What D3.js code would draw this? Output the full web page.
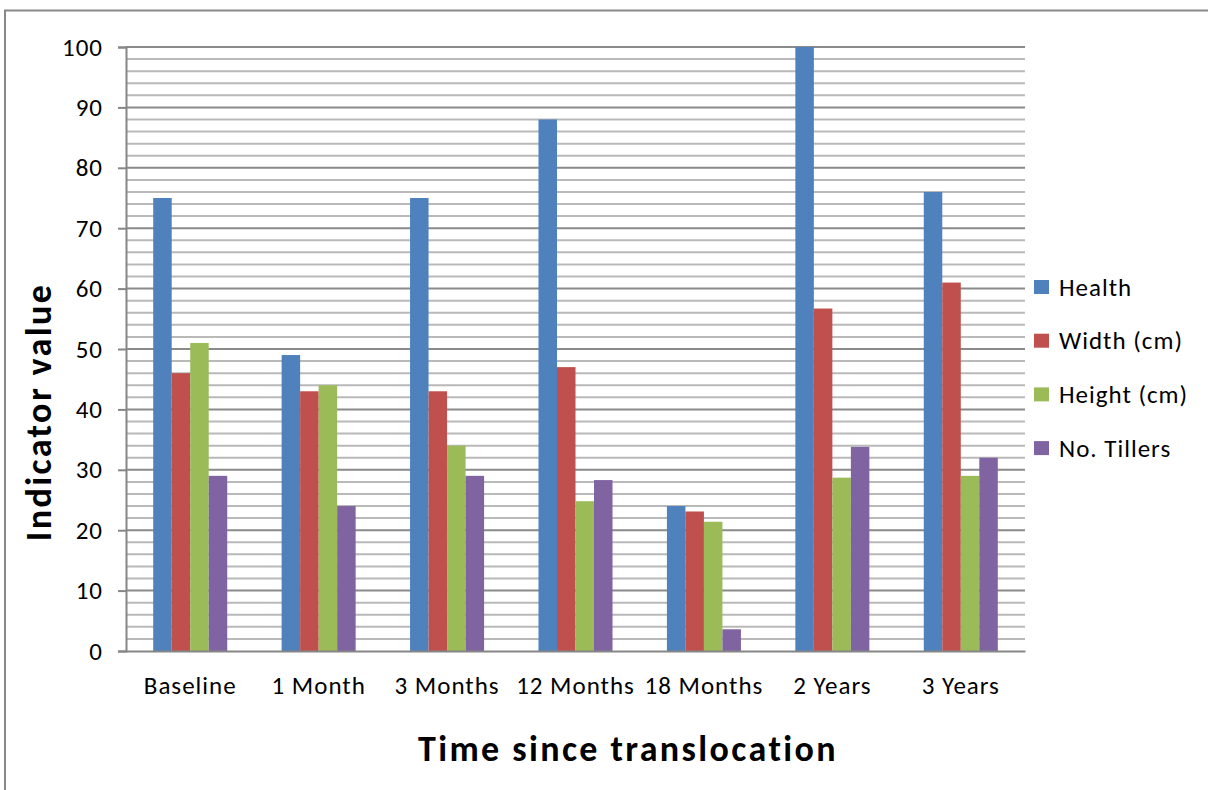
<!DOCTYPE html>
<html>
<head>
<meta charset="utf-8">
<script src="https://cdn.jsdelivr.net/npm/d3@7"></script>
<style>
  html, body { margin: 0; padding: 0; background: #fff; }
  svg { display: block; font-family: Carlito, Lato, "Liberation Sans", sans-serif; }
</style>
</head>
<body>
<svg id="chart" width="1208" height="790"></svg>
<script>
// Categories and series for the indicator chart
const categories = ["Baseline", "1 Month", "3 Months", "12 Months", "18 Months", "2 Years", "3 Years"];
const seriesNames = ["Health", "Width (cm)", "Height (cm)", "No. Tillers"];
const health  = [75, 49, 75, 88, 24, 100, 76];
const widthCm = [46, 43, 43, 47, 23.1, 56.7, 61];
const heightCm = [51, 44, 34, 24.8, 21.4, 28.7, 29];
const tillers = [29, 24, 29, 28.3, 3.6, 33.8, 32];
const yTicks = [0, 10, 20, 30, 40, 50, 60, 70, 80, 90, 100];
const yMinor = d3.range(0, 101, 2);

const seriesValues = [health, widthCm, heightCm, tillers];
const colors = ["#4F81BD", "#C0504D", "#9BBB59", "#8064A2"];
const labelFont = "Carlito, Lato, 'Liberation Sans', sans-serif";

const svg = d3.select("#chart");

// outer chart frame
svg.append("rect")
  .attr("x", 5).attr("y", 10.5)
  .attr("width", 1300).attr("height", 900)
  .attr("fill", "none").attr("stroke", "#888").attr("stroke-width", 2);

const plot = { left: 126, right: 1025, top: 47, bottom: 651 };

const y = d3.scaleLinear().domain([0, 100]).range([plot.bottom, plot.top]);
const x0 = d3.scaleBand().domain(categories).range([plot.left, plot.right]).padding(0);
const x1 = d3.scaleBand().domain(seriesNames).range([0, x0.bandwidth()])
  .paddingInner(0).paddingOuter(1.47);

// minor gridlines
svg.append("g").selectAll("line")
  .data(yMinor.filter(v => v % 10 !== 0))
  .join("line")
  .attr("x1", plot.left).attr("x2", plot.right)
  .attr("y1", d => y(d)).attr("y2", d => y(d))
  .attr("stroke", "#b9b9b9").attr("stroke-width", 2);

// major gridlines
svg.append("g").selectAll("line")
  .data(yTicks.filter(v => v !== 0))
  .join("line")
  .attr("x1", plot.left).attr("x2", plot.right)
  .attr("y1", d => y(d)).attr("y2", d => y(d))
  .attr("stroke", "#8a8a8a").attr("stroke-width", 2);

// bars
const rows = categories.map((c, i) => ({ cat: c, vals: seriesNames.map((s, j) => ({ s, j, v: seriesValues[j][i] })) }));
svg.append("g").selectAll("g")
  .data(rows)
  .join("g")
  .attr("transform", d => `translate(${x0(d.cat)},0)`)
  .selectAll("rect")
  .data(d => d.vals)
  .join("rect")
  .attr("x", d => x1(d.s))
  .attr("width", x1.bandwidth())
  .attr("y", d => y(d.v))
  .attr("height", d => y(0) - y(d.v))
  .attr("fill", d => colors[d.j]);

// y axis
const yAxis = d3.axisLeft(y).tickValues(yTicks).tickSize(8).tickPadding(15).tickFormat(d3.format("d"));
const gy = svg.append("g").attr("transform", `translate(${plot.left},0)`).call(yAxis);
gy.select(".domain").attr("stroke", "#868686").attr("stroke-width", 2);
gy.selectAll(".tick line").attr("stroke", "#868686").attr("stroke-width", 2);
gy.selectAll(".tick text").attr("font-size", 25).attr("fill", "#000")
  .attr("letter-spacing", 1).style("font-family", labelFont);

// x axis
const xAxis = d3.axisBottom(x0).tickSize(0).tickPadding(25);
const gx = svg.append("g").attr("transform", `translate(0,${plot.bottom})`).call(xAxis);
gx.select(".domain").attr("stroke", "#868686").attr("stroke-width", 2);
gx.selectAll(".tick text").attr("font-size", 25).attr("fill", "#000")
  .attr("letter-spacing", 1).style("font-family", labelFont);

// axis titles
svg.append("text")
  .attr("x", 628).attr("y", 761)
  .attr("text-anchor", "middle")
  .attr("font-size", 36).attr("font-weight", "bold")
  .attr("letter-spacing", 2.4)
  .text("Time since translocation");

svg.append("text")
  .attr("transform", "translate(51,412) rotate(-90)")
  .attr("text-anchor", "middle")
  .attr("font-size", 36).attr("font-weight", "bold")
  .attr("letter-spacing", 2.4)
  .text("Indicator value");

// legend
const legend = svg.append("g").selectAll("g")
  .data(seriesNames)
  .join("g")
  .attr("transform", (d, i) => `translate(1034,${287 + i * 53.7})`);
legend.append("rect")
  .attr("x", 0).attr("y", -7).attr("width", 15).attr("height", 14)
  .attr("fill", (d, i) => colors[i]);
legend.append("text")
  .attr("x", 25).attr("y", 0).attr("dy", "0.35em")
  .attr("font-size", 25).attr("letter-spacing", 1)
  .text(d => d);
</script>
</body>
</html>
